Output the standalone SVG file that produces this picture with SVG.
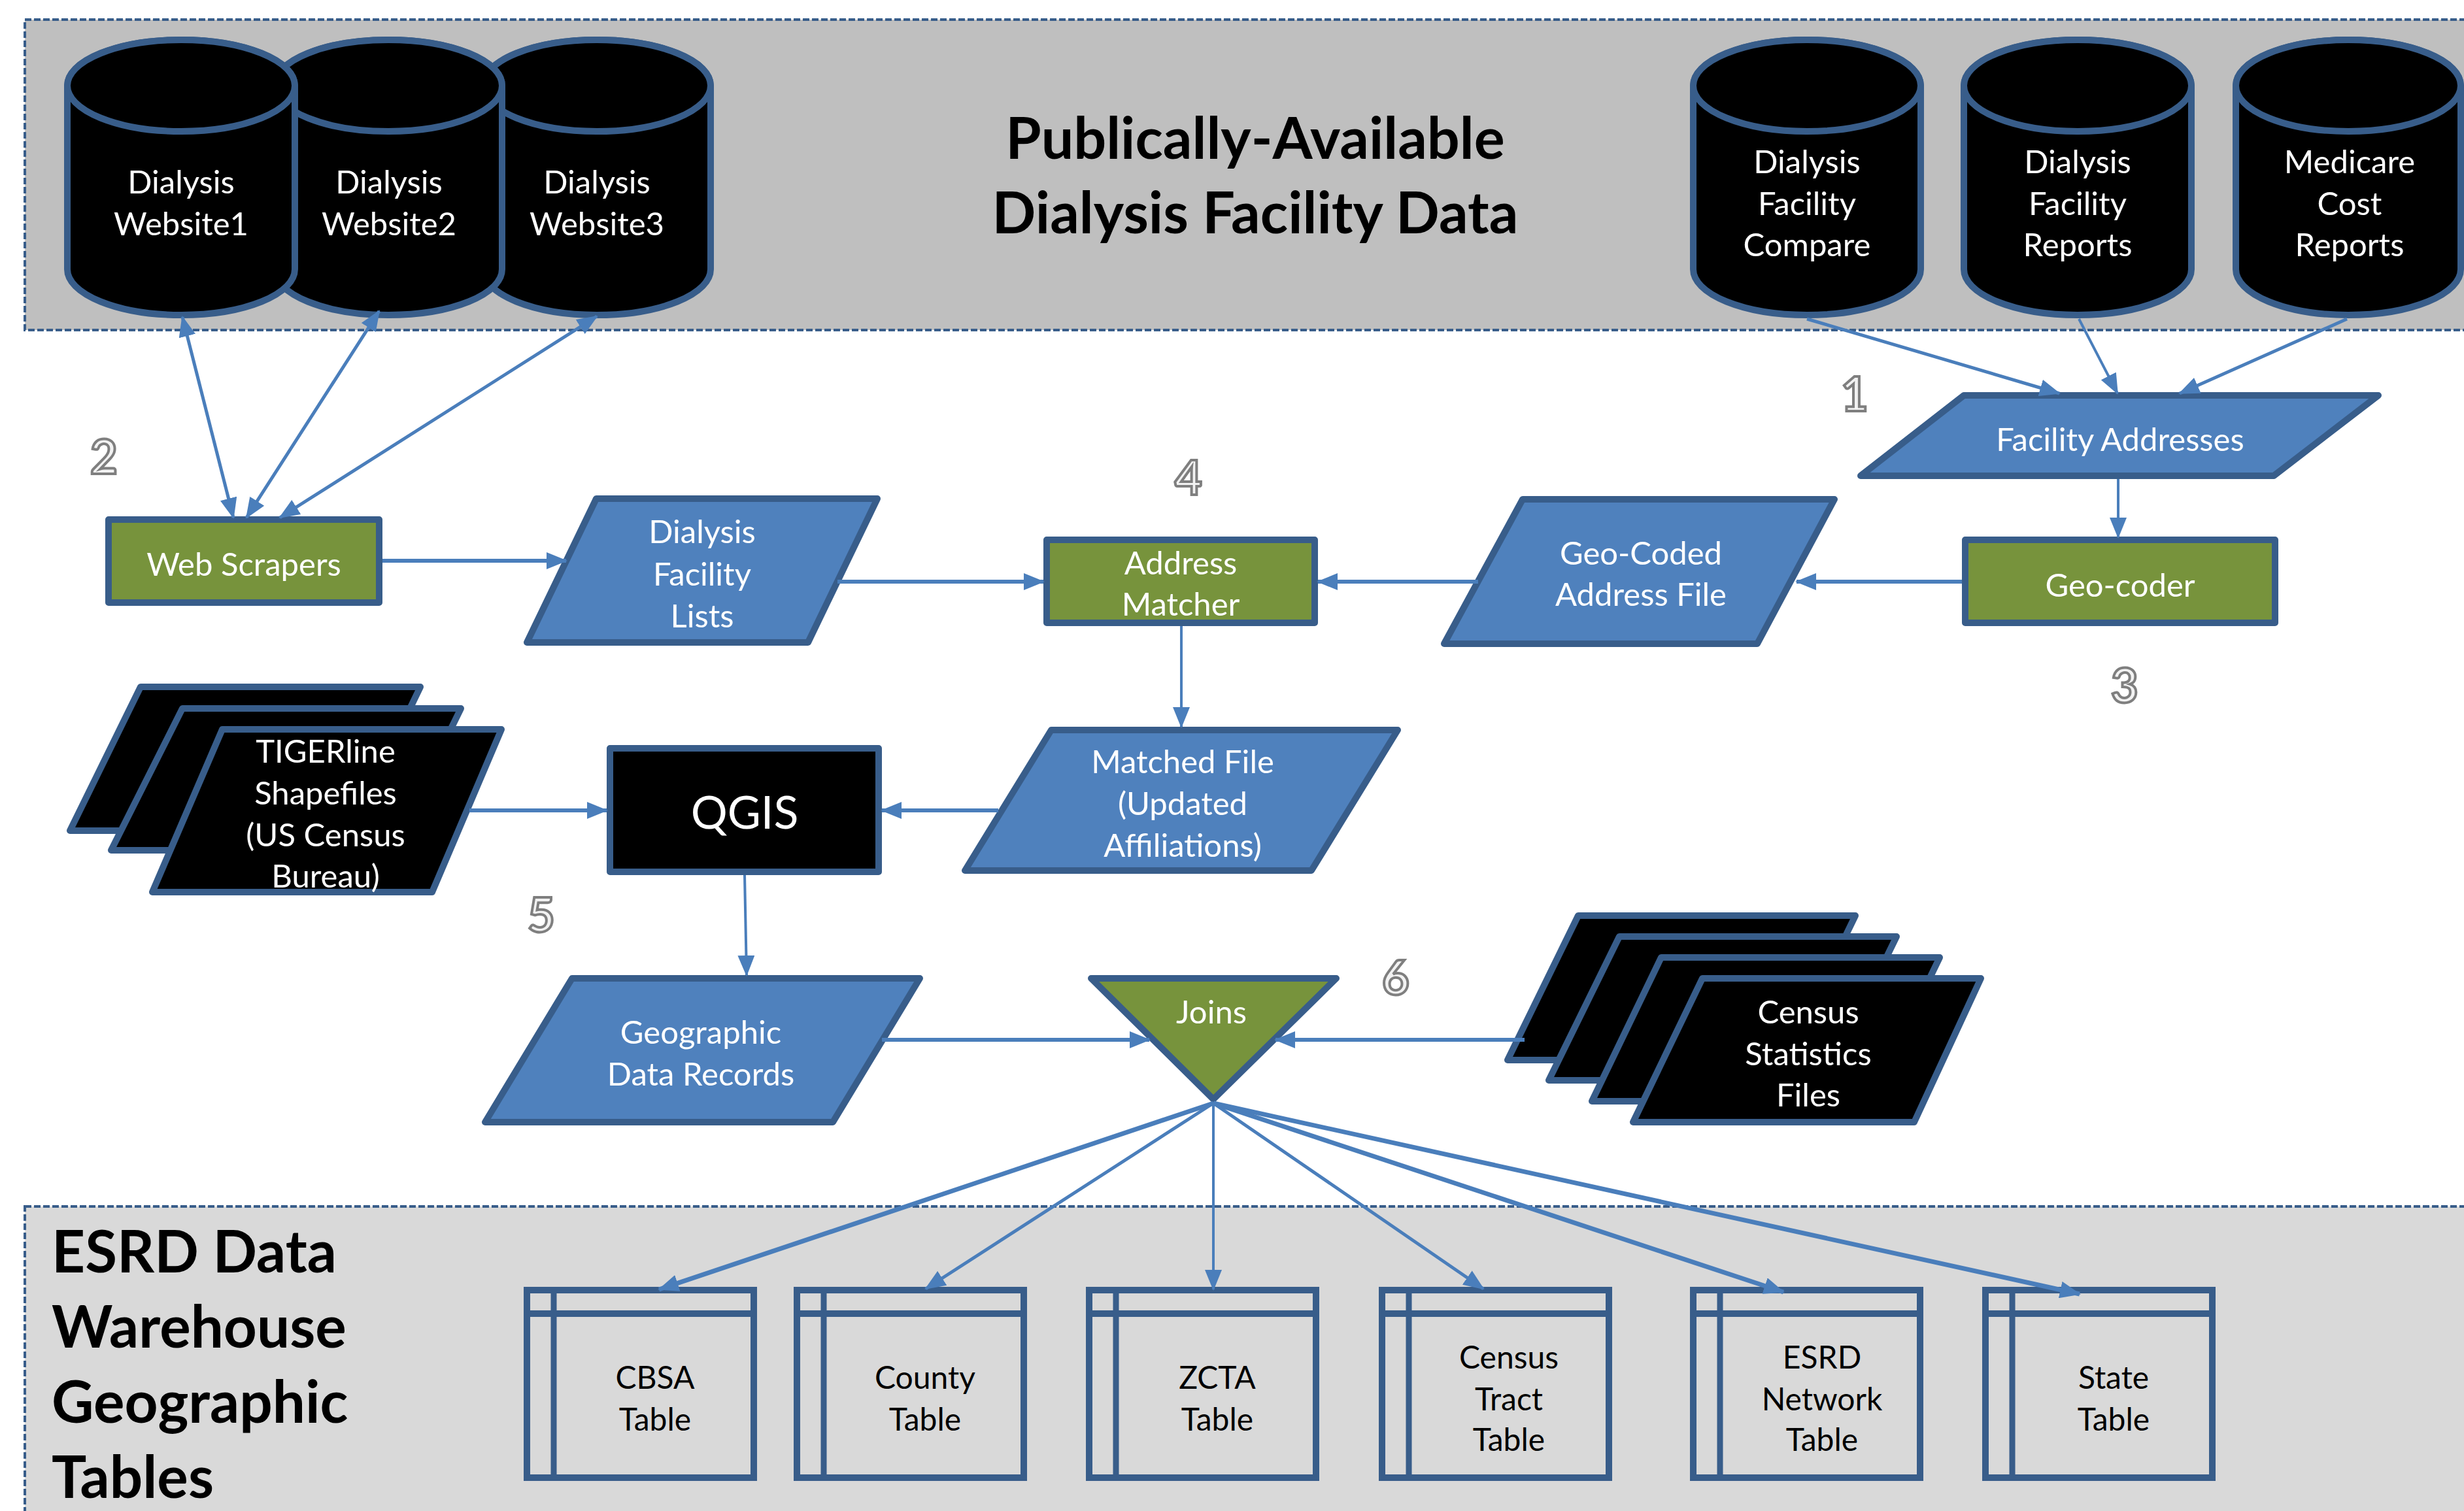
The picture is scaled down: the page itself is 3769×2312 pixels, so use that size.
<svg xmlns="http://www.w3.org/2000/svg" width="3769" height="2312" viewBox="0 0 3769 2312">
<defs>
<style>
.panel{stroke:#385d8a;stroke-width:4;stroke-dasharray:10 4}
.sh{stroke:#385d8a;stroke-width:10;stroke-linejoin:round}
.blue{fill:#4f81bd}
.green{fill:#77933c}
.blk{fill:#000000}
.tbl{fill:none;stroke:#385d8a;stroke-width:10}
.c{stroke:#4a7ebb;fill:none;stroke-width:6}
.t{font-family:Lato,"Liberation Sans",sans-serif;font-size:49px;fill:#ffffff;text-anchor:middle;transform:translate(0px,3px)}
.tk{font-family:Lato,"Liberation Sans",sans-serif;font-size:48px;fill:#000000;text-anchor:middle;transform:translate(0px,2px)}
.hd{font-family:Lato,"Liberation Sans",sans-serif;font-weight:bold;font-size:88px;fill:#000000}
.num{font-family:Lato,"Liberation Sans",sans-serif;font-weight:bold;font-size:72px;fill:#f2f2f2;stroke:#7f7f7f;stroke-width:4;text-anchor:middle}
</style>
<marker id="ah" markerUnits="userSpaceOnUse" markerWidth="32" markerHeight="26" refX="30" refY="13" orient="auto-start-reverse">
<path d="M0,0 L32,13 L0,26 Z" fill="#4a7ebb"/>
</marker>
</defs>
<rect width="3769" height="2312" fill="#ffffff"/>
<g id="panel-top">
<rect class="panel" x="38" y="30" width="3760" height="475" fill="#bfbfbf"/>
<text class="hd" x="1920" y="243" text-anchor="middle" style="font-size:88px">Publically-Available</text>
<text class="hd" x="1920" y="357" text-anchor="middle" style="font-size:88px">Dialysis Facility Data</text>
</g>
<g id="panel-bottom">
<rect class="panel" x="38" y="1846" width="3760" height="500" fill="#d9d9d9"/>
<text class="hd" x="79" y="1947" style="font-size:89px">ESRD Data</text>
<text class="hd" x="79" y="2062" style="font-size:89px">Warehouse</text>
<text class="hd" x="79" y="2177" style="font-size:89px">Geographic</text>
<text class="hd" x="79" y="2292" style="font-size:89px">Tables</text>
</g>
<g id="website3">
<path class="sh blk" d="M739,131 L739,412 A174,70 0 0 0 1087,412 L1087,131 A174,70 0 0 0 739,131 Z"/>
<ellipse class="sh blk" cx="913" cy="131" rx="174" ry="70"/>
<text class="t" x="913" y="293">Dialysis</text>
<text class="t" x="913" y="357">Website3</text>
</g>
<g id="website2">
<path class="sh blk" d="M420,131 L420,412 A174,70 0 0 0 768,412 L768,131 A174,70 0 0 0 420,131 Z"/>
<ellipse class="sh blk" cx="594" cy="131" rx="174" ry="70"/>
<text class="t" x="595" y="293">Dialysis</text>
<text class="t" x="595" y="357">Website2</text>
</g>
<g id="website1">
<path class="sh blk" d="M103,131 L103,412 A174,70 0 0 0 451,412 L451,131 A174,70 0 0 0 103,131 Z"/>
<ellipse class="sh blk" cx="277" cy="131" rx="174" ry="70"/>
<text class="t" x="277" y="293">Dialysis</text>
<text class="t" x="277" y="357">Website1</text>
</g>
<g id="dfc">
<path class="sh blk" d="M2590,131 L2590,412 A174,70 0 0 0 2938,412 L2938,131 A174,70 0 0 0 2590,131 Z"/>
<ellipse class="sh blk" cx="2764" cy="131" rx="174" ry="70"/>
<text class="t" x="2764" y="262">Dialysis</text>
<text class="t" x="2764" y="326">Facility</text>
<text class="t" x="2764" y="389">Compare</text>
</g>
<g id="dfr">
<path class="sh blk" d="M3004,131 L3004,412 A174,70 0 0 0 3352,412 L3352,131 A174,70 0 0 0 3004,131 Z"/>
<ellipse class="sh blk" cx="3178" cy="131" rx="174" ry="70"/>
<text class="t" x="3178" y="262">Dialysis</text>
<text class="t" x="3178" y="326">Facility</text>
<text class="t" x="3178" y="389">Reports</text>
</g>
<g id="mcr">
<path class="sh blk" d="M3420,131 L3420,412 A172,70 0 0 0 3764,412 L3764,131 A172,70 0 0 0 3420,131 Z"/>
<ellipse class="sh blk" cx="3592" cy="131" rx="172" ry="70"/>
<text class="t" x="3594" y="262">Medicare</text>
<text class="t" x="3594" y="326">Cost</text>
<text class="t" x="3594" y="389">Reports</text>
</g>
<g id="facility-addresses">
<polygon class="sh blue" points="3004,605 3638,605 3478,728 2846,728"/>
<text class="t" x="3243" y="687">Facility Addresses</text>
</g>
<g id="web-scrapers">
<rect class="sh green" x="166" y="795" width="414" height="127"/>
<text class="t" x="373" y="878">Web Scrapers</text>
</g>
<g id="dialysis-facility-lists">
<polygon class="sh blue" points="912,763 1342,763 1236,983 806,983"/>
<text class="t" x="1074" y="828">Dialysis</text>
<text class="t" x="1074" y="893">Facility</text>
<text class="t" x="1074" y="957">Lists</text>
</g>
<g id="address-matcher">
<rect class="sh green" x="1601" y="826" width="410" height="127"/>
<text class="t" x="1806" y="876">Address</text>
<text class="t" x="1806" y="939">Matcher</text>
</g>
<g id="geo-coded">
<polygon class="sh blue" points="2329,764 2806,764 2688,985 2209,985"/>
<text class="t" x="2510" y="861">Geo-Coded</text>
<text class="t" x="2510" y="924">Address File</text>
</g>
<g id="geo-coder">
<rect class="sh green" x="3006" y="826" width="474" height="127"/>
<text class="t" x="3243" y="910">Geo-coder</text>
</g>
<g id="tigerline">
<polygon class="sh blk" points="215,1051 643,1051 537,1271 107,1271"/>
<polygon class="sh blk" points="279,1084 705,1084 599,1301 170,1301"/>
<polygon class="sh blk" points="340,1116 767,1116 661,1365 233,1365"/>
<text class="t" x="498" y="1164">TIGERline</text>
<text class="t" x="498" y="1228">Shapefiles</text>
<text class="t" x="498" y="1292">(US Census</text>
<text class="t" x="498" y="1355">Bureau)</text>
</g>
<g id="qgis">
<rect class="sh blk" x="933" y="1145" width="411" height="189"/>
<text class="t" x="1139" y="1265" style="font-size:70px">QGIS</text>
</g>
<g id="matched-file">
<polygon class="sh blue" points="1608,1117 2138,1117 2006,1332 1476,1332"/>
<text class="t" x="1809" y="1180">Matched File</text>
<text class="t" x="1809" y="1244">(Updated</text>
<text class="t" x="1809" y="1308">Affiliations)</text>
</g>
<g id="geographic-data-records">
<polygon class="sh blue" points="875,1497 1407,1497 1274,1717 742,1717"/>
<text class="t" x="1072" y="1594">Geographic</text>
<text class="t" x="1072" y="1658">Data Records</text>
</g>
<g id="joins">
<polygon class="sh green" points="1669,1497 2044,1497 1856,1682"/>
<text class="t" x="1853" y="1563">Joins</text>
</g>
<g id="census-statistics">
<polygon class="sh blk" points="2414,1401 2838,1401 2731,1622 2306,1622"/>
<polygon class="sh blk" points="2477,1433 2901,1433 2794,1653 2369,1653"/>
<polygon class="sh blk" points="2541,1465 2967,1465 2861,1685 2435,1685"/>
<polygon class="sh blk" points="2604,1497 3030,1497 2928,1717 2498,1717"/>
<text class="t" x="2766" y="1563">Census</text>
<text class="t" x="2766" y="1627">Statistics</text>
<text class="t" x="2766" y="1690">Files</text>
</g>
<g id="cbsa-table">
<rect class="tbl" x="806" y="1974" width="347" height="287"/>
<line class="tbl" x1="806" y1="2010" x2="1153" y2="2010"/>
<line class="tbl" x1="847" y1="1974" x2="847" y2="2261" style="stroke-width:9"/>
<text class="tk" x="1002" y="2123">CBSA</text>
<text class="tk" x="1002" y="2187">Table</text>
</g>
<g id="county-table">
<rect class="tbl" x="1219" y="1974" width="347" height="287"/>
<line class="tbl" x1="1219" y1="2010" x2="1566" y2="2010"/>
<line class="tbl" x1="1260" y1="1974" x2="1260" y2="2261" style="stroke-width:9"/>
<text class="tk" x="1415" y="2123">County</text>
<text class="tk" x="1415" y="2187">Table</text>
</g>
<g id="zcta-table">
<rect class="tbl" x="1666" y="1974" width="347" height="287"/>
<line class="tbl" x1="1666" y1="2010" x2="2013" y2="2010"/>
<line class="tbl" x1="1707" y1="1974" x2="1707" y2="2261" style="stroke-width:9"/>
<text class="tk" x="1862" y="2123">ZCTA</text>
<text class="tk" x="1862" y="2187">Table</text>
</g>
<g id="census-tract-table">
<rect class="tbl" x="2114" y="1974" width="347" height="287"/>
<line class="tbl" x1="2114" y1="2010" x2="2461" y2="2010"/>
<line class="tbl" x1="2155" y1="1974" x2="2155" y2="2261" style="stroke-width:9"/>
<text class="tk" x="2308" y="2092">Census</text>
<text class="tk" x="2308" y="2156">Tract</text>
<text class="tk" x="2308" y="2218">Table</text>
</g>
<g id="esrd-network-table">
<rect class="tbl" x="2590" y="1974" width="347" height="287"/>
<line class="tbl" x1="2590" y1="2010" x2="2937" y2="2010"/>
<line class="tbl" x1="2631" y1="1974" x2="2631" y2="2261" style="stroke-width:9"/>
<text class="tk" x="2787" y="2092">ESRD</text>
<text class="tk" x="2787" y="2156">Network</text>
<text class="tk" x="2787" y="2218">Table</text>
</g>
<g id="state-table">
<rect class="tbl" x="3037" y="1974" width="347" height="287"/>
<line class="tbl" x1="3037" y1="2010" x2="3384" y2="2010"/>
<line class="tbl" x1="3078" y1="1974" x2="3078" y2="2261" style="stroke-width:9"/>
<text class="tk" x="3233" y="2123">State</text>
<text class="tk" x="3233" y="2187">Table</text>
</g>
<g id="labels">
<text class="num" x="2837" y="629">1</text>
<text class="num" x="159" y="725">2</text>
<text class="num" x="3250" y="1075">3</text>
<text class="num" x="1818" y="757">4</text>
<text class="num" x="828" y="1426">5</text>
<text class="num" x="2135" y="1522">6</text>
</g>
<g id="connectors">
<line class="c" x1="279" y1="485" x2="357" y2="792" marker-start="url(#ah)" marker-end="url(#ah)" style="stroke-width:5"/>
<line class="c" x1="580" y1="476" x2="377" y2="792" marker-start="url(#ah)" marker-end="url(#ah)" style="stroke-width:5"/>
<line class="c" x1="913" y1="484" x2="428" y2="792" marker-start="url(#ah)" marker-end="url(#ah)" style="stroke-width:5"/>
<line class="c" x1="2764" y1="488" x2="3150" y2="602" marker-end="url(#ah)" style="stroke-width:5"/>
<line class="c" x1="3180" y1="488" x2="3239" y2="602" marker-end="url(#ah)" style="stroke-width:4"/>
<line class="c" x1="3590" y1="488" x2="3334" y2="602" marker-end="url(#ah)" style="stroke-width:5"/>
<line class="c" x1="3240" y1="733" x2="3240" y2="822" marker-end="url(#ah)" style="stroke-width:4"/>
<line class="c" x1="585" y1="858" x2="866" y2="858" marker-end="url(#ah)"/>
<line class="c" x1="1281" y1="890" x2="1596" y2="890" marker-end="url(#ah)"/>
<line class="c" x1="2261" y1="890" x2="2016" y2="890" marker-end="url(#ah)"/>
<line class="c" x1="3001" y1="890" x2="2748" y2="890" marker-end="url(#ah)"/>
<line class="c" x1="1807" y1="958" x2="1807" y2="1112" marker-end="url(#ah)" style="stroke-width:4"/>
<line class="c" x1="1527" y1="1240" x2="1349" y2="1240" marker-end="url(#ah)"/>
<line class="c" x1="718" y1="1240" x2="928" y2="1240" marker-end="url(#ah)"/>
<line class="c" x1="1139" y1="1339" x2="1142" y2="1492" marker-end="url(#ah)" style="stroke-width:4"/>
<line class="c" x1="1349" y1="1591" x2="1758" y2="1591" marker-end="url(#ah)"/>
<line class="c" x1="2332" y1="1591" x2="1951" y2="1591" marker-end="url(#ah)"/>
<line class="c" x1="1856" y1="1688" x2="1008" y2="1973" marker-end="url(#ah)" style="stroke-width:7"/>
<line class="c" x1="1856" y1="1688" x2="1416" y2="1972" marker-end="url(#ah)" style="stroke-width:5"/>
<line class="c" x1="1856" y1="1688" x2="1856" y2="1973" marker-end="url(#ah)" style="stroke-width:4"/>
<line class="c" x1="1856" y1="1688" x2="2269" y2="1972" marker-end="url(#ah)" style="stroke-width:5"/>
<line class="c" x1="1856" y1="1688" x2="2728" y2="1977" marker-end="url(#ah)" style="stroke-width:7"/>
<line class="c" x1="1856" y1="1688" x2="3181" y2="1980" marker-end="url(#ah)" style="stroke-width:7"/>
</g>
</svg>
